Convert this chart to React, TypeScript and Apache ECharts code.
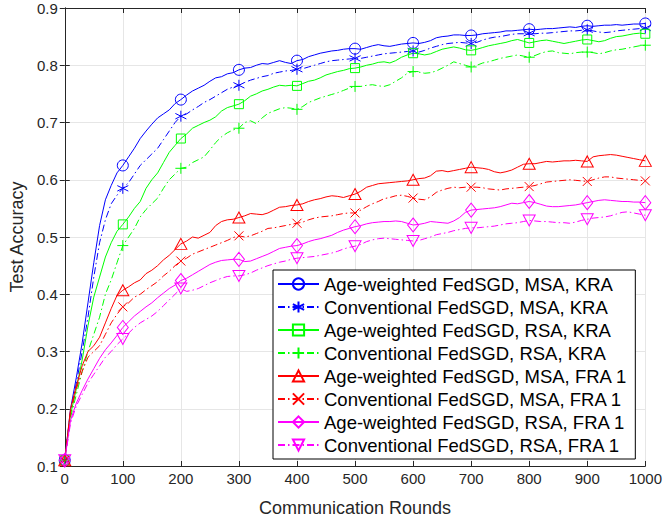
import React, { useEffect, useRef } from "react";
import * as echarts from "echarts";

// Sample positions (communication rounds), every 10 rounds
const ROUNDS: number[] = Array.from({ length: 101 }, (_, i) => i * 10);

const SERIES_NAMES = [
  "Age-weighted FedSGD, MSA, KRA",
  "Conventional FedSGD, MSA, KRA",
  "Age-weighted FedSGD, RSA, KRA",
  "Conventional FedSGD, RSA, KRA",
  "Age-weighted FedSGD, MSA, FRA 1",
  "Conventional FedSGD, MSA, FRA 1",
  "Age-weighted FedSGD, RSA, FRA 1",
  "Conventional FedSGD, RSA, FRA 1",
];

const AW_MSA_KRA = [
  0.11, 0.2, 0.255, 0.315, 0.385, 0.455, 0.52, 0.565, 0.59, 0.612, 0.625,
  0.64, 0.655, 0.672, 0.685, 0.697, 0.708, 0.715, 0.722, 0.733, 0.74,
  0.748, 0.755, 0.76, 0.765, 0.772, 0.778, 0.78, 0.785, 0.787, 0.792,
  0.795, 0.796, 0.8, 0.803, 0.802, 0.805, 0.808, 0.805, 0.803, 0.808,
  0.81, 0.815, 0.818, 0.821, 0.823, 0.825, 0.826, 0.828, 0.829, 0.829,
  0.828, 0.831, 0.834, 0.836, 0.834, 0.833, 0.835, 0.837, 0.838, 0.839,
  0.838, 0.84, 0.843, 0.848, 0.85, 0.851, 0.853, 0.853, 0.852, 0.852,
  0.853, 0.855, 0.856, 0.857, 0.858, 0.86, 0.86, 0.861, 0.862, 0.863,
  0.862, 0.863, 0.864, 0.864, 0.865, 0.866, 0.867, 0.866, 0.868, 0.869,
  0.868, 0.869, 0.87, 0.87, 0.871, 0.87, 0.871, 0.872, 0.872, 0.873,
];

const CV_MSA_KRA = [
  0.11, 0.195, 0.245, 0.3, 0.36, 0.43, 0.49, 0.53, 0.558, 0.573, 0.585,
  0.595, 0.61, 0.625, 0.635, 0.645, 0.655, 0.67, 0.685, 0.7, 0.711,
  0.715, 0.722, 0.728, 0.735, 0.74, 0.746, 0.752, 0.758, 0.762, 0.765,
  0.77, 0.774, 0.777, 0.78, 0.782, 0.786, 0.788, 0.79, 0.791, 0.793,
  0.794, 0.797, 0.8, 0.803, 0.806, 0.808, 0.809, 0.81, 0.811, 0.812,
  0.812, 0.814, 0.816, 0.818, 0.82, 0.821, 0.822, 0.823, 0.824, 0.825,
  0.823, 0.826, 0.83, 0.833, 0.836, 0.838, 0.839, 0.84, 0.839, 0.838,
  0.84, 0.844, 0.847, 0.849, 0.85, 0.852, 0.854, 0.855, 0.855, 0.856,
  0.855, 0.856, 0.856, 0.857, 0.858, 0.859, 0.86, 0.86, 0.861, 0.862,
  0.86, 0.858, 0.857, 0.858, 0.86, 0.861, 0.862, 0.863, 0.864, 0.865,
];

const AW_RSA_KRA = [
  0.11, 0.19, 0.235, 0.285, 0.345, 0.395, 0.43, 0.465, 0.49, 0.51, 0.522,
  0.535, 0.55, 0.562, 0.585, 0.6, 0.612, 0.63, 0.648, 0.66, 0.672,
  0.68, 0.69, 0.695, 0.7, 0.704, 0.71, 0.72, 0.726, 0.729, 0.732,
  0.738, 0.746, 0.75, 0.755, 0.758, 0.762, 0.765, 0.764, 0.765, 0.764,
  0.768, 0.772, 0.774, 0.778, 0.783, 0.786, 0.789, 0.791, 0.794, 0.795,
  0.797, 0.8, 0.802, 0.805, 0.806, 0.804, 0.808, 0.814, 0.818, 0.821,
  0.82, 0.818, 0.82, 0.824, 0.828, 0.83, 0.832, 0.83, 0.827, 0.826,
  0.828, 0.831, 0.834, 0.836, 0.838, 0.84, 0.843, 0.845, 0.842, 0.839,
  0.841, 0.843, 0.844, 0.842, 0.84, 0.838, 0.84, 0.842, 0.844, 0.845,
  0.843, 0.841, 0.843, 0.847, 0.85, 0.851, 0.853, 0.855, 0.856, 0.855,
];

const CV_RSA_KRA = [
  0.11, 0.185, 0.225, 0.265, 0.3, 0.33, 0.36, 0.4, 0.425, 0.455, 0.485,
  0.5, 0.515, 0.535, 0.548, 0.558, 0.568, 0.585, 0.6, 0.61, 0.62,
  0.622, 0.63, 0.635, 0.64, 0.652, 0.665, 0.675, 0.682, 0.687, 0.69,
  0.7, 0.703, 0.698, 0.708, 0.716, 0.72, 0.724, 0.726, 0.725, 0.723,
  0.728, 0.735, 0.739, 0.743, 0.746, 0.749, 0.752, 0.756, 0.76, 0.763,
  0.763, 0.765, 0.766, 0.764, 0.763, 0.766, 0.772, 0.778, 0.786, 0.789,
  0.788, 0.786, 0.787, 0.79, 0.795, 0.8, 0.806, 0.803, 0.8, 0.797,
  0.8, 0.804, 0.806, 0.809, 0.812, 0.814, 0.816, 0.818, 0.816, 0.814,
  0.817, 0.821, 0.824, 0.825, 0.822, 0.821, 0.82, 0.822, 0.823, 0.823,
  0.822, 0.82, 0.822, 0.825, 0.827, 0.828, 0.83, 0.832, 0.834, 0.835,
];

const AW_MSA_FRA = [
  0.11, 0.2, 0.24, 0.275, 0.3, 0.31, 0.325, 0.35, 0.375, 0.398, 0.407,
  0.413, 0.42, 0.425, 0.436, 0.442, 0.45, 0.46, 0.468, 0.478, 0.488,
  0.493, 0.5, 0.498, 0.503, 0.508, 0.52, 0.527, 0.53, 0.531, 0.534,
  0.537, 0.541, 0.54, 0.539, 0.542, 0.547, 0.552, 0.553, 0.555, 0.556,
  0.558, 0.562, 0.565, 0.567, 0.57, 0.572, 0.571, 0.569, 0.572, 0.575,
  0.58, 0.587, 0.59, 0.593, 0.594, 0.595, 0.596, 0.597, 0.598, 0.6,
  0.602, 0.603, 0.607, 0.615, 0.616, 0.614, 0.616, 0.618, 0.62, 0.622,
  0.621, 0.62, 0.618, 0.614, 0.612, 0.614, 0.617, 0.622, 0.627, 0.628,
  0.628, 0.63, 0.632, 0.631, 0.632, 0.633, 0.633, 0.634, 0.633, 0.632,
  0.64, 0.642, 0.643, 0.644, 0.643, 0.641, 0.639, 0.637, 0.635, 0.633,
];

const CV_MSA_FRA = [
  0.11, 0.195, 0.235, 0.265, 0.29, 0.3, 0.31, 0.33, 0.35, 0.365, 0.378,
  0.385, 0.395, 0.4, 0.408, 0.415, 0.422, 0.432, 0.44, 0.45, 0.458,
  0.463, 0.47, 0.474, 0.478, 0.482, 0.486, 0.49, 0.494, 0.499, 0.502,
  0.5, 0.502, 0.506, 0.51, 0.515, 0.516, 0.518, 0.52, 0.522, 0.524,
  0.526, 0.53, 0.533, 0.535, 0.536, 0.537, 0.539, 0.541, 0.542, 0.542,
  0.547, 0.553, 0.558, 0.562, 0.567, 0.569, 0.572, 0.573, 0.571, 0.568,
  0.566, 0.565, 0.57, 0.578, 0.582, 0.585, 0.587, 0.586, 0.587, 0.587,
  0.587, 0.586, 0.584, 0.583, 0.582, 0.584, 0.585, 0.586, 0.587, 0.588,
  0.59, 0.593, 0.596, 0.597, 0.598, 0.599, 0.6, 0.599, 0.598, 0.597,
  0.6, 0.603, 0.605, 0.605, 0.603, 0.602, 0.601, 0.6, 0.599, 0.598,
];

const AW_RSA_FRA = [
  0.11, 0.18, 0.21, 0.232, 0.252, 0.27, 0.288, 0.303, 0.315, 0.328, 0.342,
  0.352, 0.362, 0.37, 0.378, 0.385, 0.394, 0.402, 0.41, 0.416, 0.424,
  0.428, 0.434, 0.44, 0.446, 0.452, 0.456, 0.459, 0.46, 0.461, 0.461,
  0.457, 0.458, 0.462, 0.466, 0.47, 0.475, 0.48, 0.482, 0.484, 0.485,
  0.488, 0.492, 0.495, 0.497, 0.5, 0.503, 0.508, 0.512, 0.515, 0.518,
  0.52, 0.523, 0.525, 0.526, 0.527, 0.527, 0.528, 0.527, 0.524, 0.521,
  0.522, 0.524, 0.527, 0.526, 0.525, 0.524, 0.528, 0.534, 0.543, 0.547,
  0.548, 0.549, 0.55, 0.551, 0.553, 0.556, 0.559, 0.558, 0.56, 0.562,
  0.56, 0.557, 0.554, 0.553, 0.553, 0.554, 0.555, 0.556, 0.558, 0.56,
  0.562, 0.564, 0.565, 0.564, 0.563, 0.562, 0.562, 0.561, 0.561, 0.56,
];

const CV_RSA_FRA = [
  0.11, 0.175, 0.205, 0.225, 0.245, 0.26, 0.275, 0.29, 0.3, 0.312, 0.322,
  0.332, 0.342, 0.35, 0.356, 0.362, 0.37, 0.38, 0.39, 0.4, 0.41,
  0.405, 0.407, 0.41, 0.415, 0.42, 0.424, 0.428, 0.431, 0.432, 0.432,
  0.434, 0.437, 0.442, 0.446, 0.45, 0.453, 0.456, 0.458, 0.461, 0.463,
  0.464, 0.465, 0.466, 0.468, 0.47, 0.472, 0.475, 0.479, 0.482, 0.484,
  0.487, 0.492, 0.495, 0.497, 0.498, 0.497, 0.496, 0.495, 0.494, 0.493,
  0.494, 0.497, 0.5, 0.504, 0.506, 0.508, 0.511, 0.513, 0.515, 0.516,
  0.516, 0.517, 0.518, 0.519, 0.521, 0.523, 0.524, 0.525, 0.527, 0.529,
  0.528, 0.527, 0.527, 0.526, 0.525, 0.525, 0.524, 0.526, 0.529, 0.531,
  0.533, 0.534, 0.535, 0.537, 0.54, 0.543, 0.544, 0.542, 0.54, 0.538,
];

const SERIES_VALUES = [
  AW_MSA_KRA, CV_MSA_KRA, AW_RSA_KRA, CV_RSA_KRA,
  AW_MSA_FRA, CV_MSA_FRA, AW_RSA_FRA, CV_RSA_FRA,
];

const COLORS = ["#0000ff", "#0000ff", "#00ff00", "#00ff00", "#ff0000", "#ff0000", "#ff00ff", "#ff00ff"];
const DASHED = [false, true, false, true, false, true, false, true];
const SYMBOLS = [
  "circle",
  "path://M0,-1L0,1M-0.866,-0.5L0.866,0.5M-0.866,0.5L0.866,-0.5",
  "rect",
  "path://M0,-1L0,1M-1,0L1,0",
  "triangle",
  "path://M-1,-1L1,1M-1,1L1,-1",
  "diamond",
  "path://M-1,-0.9L1,-0.9L0,0.9Z",
];
const SYMBOL_SIZES: any[] = [11, 11, 9, 11, [12, 11], 9, [11, 14], [12, 11]];

const FONT = "'Liberation Sans', Arial, Helvetica, sans-serif";
const AX = "#262626";

export default function App() {
  const ref = useRef<HTMLDivElement>(null);
  useEffect(() => {
    document.body.style.margin = "0";
    const chart = echarts.init(ref.current!, undefined, { renderer: "svg" });
    const series = SERIES_NAMES.map((name, k) => ({
      type: "line",
      name,
      data: ROUNDS.map((r, i) =>
        r % 100 === 0
          ? { value: [r, SERIES_VALUES[k][i]] }
          : { value: [r, SERIES_VALUES[k][i]], symbol: "none" }
      ),
      symbol: SYMBOLS[k],
      symbolSize: SYMBOL_SIZES[k],
      showSymbol: true,
      showAllSymbol: true,
      clip: false,
      silent: true,
      lineStyle: {
        color: COLORS[k],
        width: 1,
        type: DASHED[k] ? [7, 3, 1.5, 3] : "solid",
      },
      itemStyle: { color: "rgba(0,0,0,0)", borderColor: COLORS[k], borderWidth: 1 },
      emphasis: { disabled: true },
    }));

    const axisCommon = {
      axisLine: { show: true, lineStyle: { color: AX, width: 1 } },
      axisTick: { show: true, inside: true, length: 5, lineStyle: { color: AX } },
    };

    chart.setOption({
      animation: false,
      backgroundColor: "#ffffff",
      grid: { left: 62, top: 8, right: 14, bottom: 56, containLabel: false },
      xAxis: [
        {
          type: "value",
          min: 0,
          max: 1000,
          interval: 100,
          position: "bottom",
          ...axisCommon,
          axisLabel: {
            color: AX,
            fontSize: 15,
            fontFamily: FONT,
            margin: 5,
            formatter: (v: number) => String(v),
          },
          splitLine: { show: true, lineStyle: { color: "#e6e6e6", width: 1 } },
          name: "Communication Rounds",
          nameLocation: "middle",
          nameGap: 33,
          nameTextStyle: { color: AX, fontSize: 18, fontFamily: FONT },
        },
        {
          type: "value",
          min: 0,
          max: 1000,
          interval: 100,
          position: "top",
          ...axisCommon,
          axisLabel: { show: false },
          splitLine: { show: false },
        },
      ],
      yAxis: [
        {
          type: "value",
          min: 0.1,
          max: 0.9,
          interval: 0.1,
          position: "left",
          ...axisCommon,
          axisLabel: {
            color: AX,
            fontSize: 15,
            fontFamily: FONT,
            margin: 7,
            formatter: (v: number) => v.toFixed(1),
          },
          splitLine: { show: true, lineStyle: { color: "#e6e6e6", width: 1 } },
          name: "Test Accuracy",
          nameLocation: "middle",
          nameGap: 33,
          nameTextStyle: { color: AX, fontSize: 18, fontFamily: FONT },
        },
        {
          type: "value",
          min: 0.1,
          max: 0.9,
          interval: 0.1,
          position: "right",
          ...axisCommon,
          axisLabel: { show: false },
          splitLine: { show: false },
        },
      ],
      legend: {
        orient: "vertical",
        left: 273,
        top: 270,
        padding: [4, 8, 4, 4],
        itemWidth: 41,
        itemHeight: 14,
        itemGap: 3,
        backgroundColor: "#ffffff",
        borderColor: "#000000",
        borderWidth: 1,
        selectedMode: false,
        textStyle: { color: "#000000", fontSize: 18.5, fontFamily: FONT, lineHeight: 20 },
        data: SERIES_NAMES,
      },
      series,
    });
    return () => chart.dispose();
  }, []);
  return (
    <div
      ref={ref}
      style={{ width: 665, height: 522, position: "absolute", left: 0, top: 0 }}
    />
  );
}
